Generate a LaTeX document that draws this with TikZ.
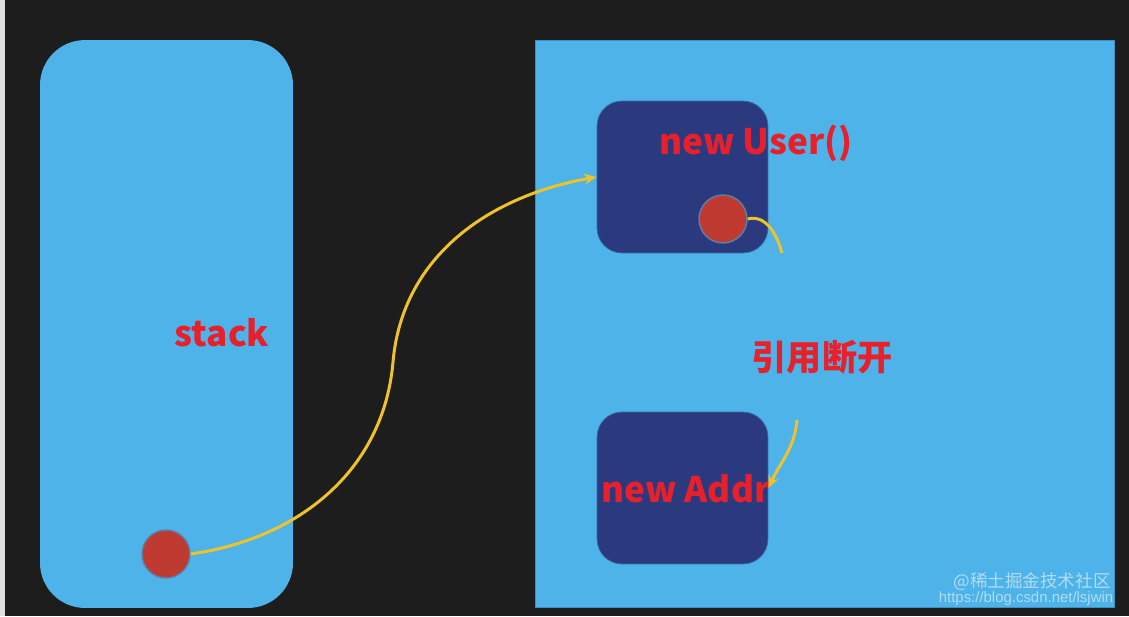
\documentclass[tikz,border=0pt]{standalone}
\usepackage{fontspec}
\setmainfont{Liberation Sans}
\newfontfamily\cjk{Noto Sans CJK SC}
\usepackage{xcolor}
\usetikzlibrary{arrows.meta, positioning}

\definecolor{board}{HTML}{1D1D1D}
\definecolor{skyblue}{HTML}{4EB3E8}
\definecolor{skyedge}{HTML}{3B8FC4}
\definecolor{navy}{HTML}{2B3A7E}
\definecolor{dotred}{HTML}{BF3A30}
\definecolor{dotedge}{HTML}{5E7FA6}
\definecolor{lblred}{HTML}{E8202C}
\definecolor{refyellow}{HTML}{EEC22A}

\begin{document}
\begin{tikzpicture}[
  x=0.02cm, y=-0.02cm,
  every node/.style={inner sep=0pt},
  stackbox/.style={rectangle, rounded corners=0.9cm, fill=skyblue,
                   minimum width=5.06cm, minimum height=11.36cm},
  heapbox/.style={rectangle, draw=skyedge, line width=0.6pt, fill=skyblue,
                  minimum width=11.6cm, minimum height=11.36cm},
  objbox/.style={rectangle, rounded corners=0.5cm, draw=skyedge!60!navy,
                 line width=0.4pt, fill=navy,
                 minimum width=3.42cm, minimum height=3.04cm},
  refdot/.style={circle, draw=dotedge, line width=0.8pt, fill=dotred,
                 minimum size=0.96cm},
  lbl/.style={text=lblred, font=\cjk\bfseries\fontsize{20}{24}\selectfont},
  ref/.style={draw=refyellow, line width=1.7pt},
  arr/.style={ref, -{Stealth[length=7pt, width=6pt]}},
  wmark/.style={text=white, opacity=0.55},
]
% board and margins
\fill[board] (0,0) rectangle (1129,616);
\fill[gray!25!white] (0,0) rectangle (5,616);
\useasboundingbox (0,0) rectangle (1129,616);

% stack and heap
\node[stackbox] (stack) at (166.5,324) {};
\node[heapbox]  (heap)  at (825,324) {};
\node[objbox]   (user)  at (682.5,177) {};
\node[objbox]   (addr)  at (682.5,488) {};

% references
\node[refdot] (sdot) at (166,554) {};
\node[refdot] (udot) at (723,219) {};

% labels
\node[lbl] (stacklbl) at (222,333) {stack};
\node[lbl] (userlbl)  at (756,143) {new User()};
\node[lbl] (addrlbl)  at (686,489) {new Addr};
\node[lbl] (cutlbl)   at (822,357) {引用断开};

% connectors
\coordinate (bend) at (393,362);
\coordinate (cutA) at (782,253);
\coordinate (cutB) at (797,420);
\draw[arr] (sdot.east) to[out=8, in=-95] (bend)
                       to[out=85, in=190] (user.west);
\draw[ref] (udot.east) to[out=15, in=105] (cutA);
\draw[arr] (cutB) to[out=-95, in=65] (addr.east);

% watermark
\node[wmark, font=\cjk\fontsize{10}{10}\selectfont] (wm1) at (1032,582) {@稀土掘金技术社区};
\node[wmark, font=\fontsize{8.5}{8.5}\selectfont] (wm2) at (1026,599) {https://blog.csdn.net/lsjwin};
\end{tikzpicture}
\end{document}
